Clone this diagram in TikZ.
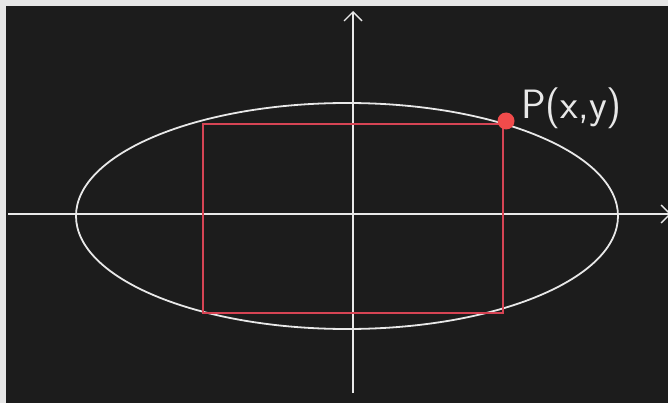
\documentclass[tikz,border=0pt]{standalone}
\usepackage{xcolor}
\usepackage{tikz}
\usetikzlibrary{arrows.meta,shapes.geometric}
\definecolor{BBFrame}{HTML}{E6E6E6}
\definecolor{BBBoard}{HTML}{1C1C1C}
\definecolor{BBChalk}{HTML}{E8E8E8}
\definecolor{BBRed}{HTML}{D64454}
\definecolor{BBDot}{HTML}{F04B4B}
\tikzset{
  chalk/.style={draw=BBChalk,line width=1.8pt},
  axis/.style={chalk,-{Straight Barb[length=9pt,width=18pt,line width=1.4pt]}},
  box/.style={draw=BBRed,line width=1.4pt}
}

\begin{document}
\begin{tikzpicture}[x=1pt,y=-1pt]
\path[use as bounding box] (0,0) rectangle (668,403);
\fill[BBFrame] (0,0) rectangle (668,403);
\fill[BBBoard] (6,6) rectangle (668,403);
\clip (6,6) rectangle (668,403);
% axes
\coordinate (xl) at (8,214);
\coordinate (xr) at (671,214);
\coordinate (yb) at (353,393);
\coordinate (yt) at (353,11);
\draw[axis] (xl) -- (xr);
\draw[axis] (yb) -- (yt);
% ellipse
\node[ellipse,chalk,minimum width=542pt,minimum height=226pt,inner sep=0pt] (ell) at (347,216) {};
% rectangle
\coordinate (r1) at (203,124);
\coordinate (r2) at (503,313);
\draw[box] (r1) rectangle (r2);
% point
\node[circle,fill=BBDot,minimum size=17pt,inner sep=0pt] (pt) at (506,121) {};
\node[anchor=south west,text=BBChalk,inner sep=0pt,font=\fontsize{41}{41}\selectfont\sffamily] (lbl) at (521,129) {P(x,y)};
\end{tikzpicture}
\end{document}
